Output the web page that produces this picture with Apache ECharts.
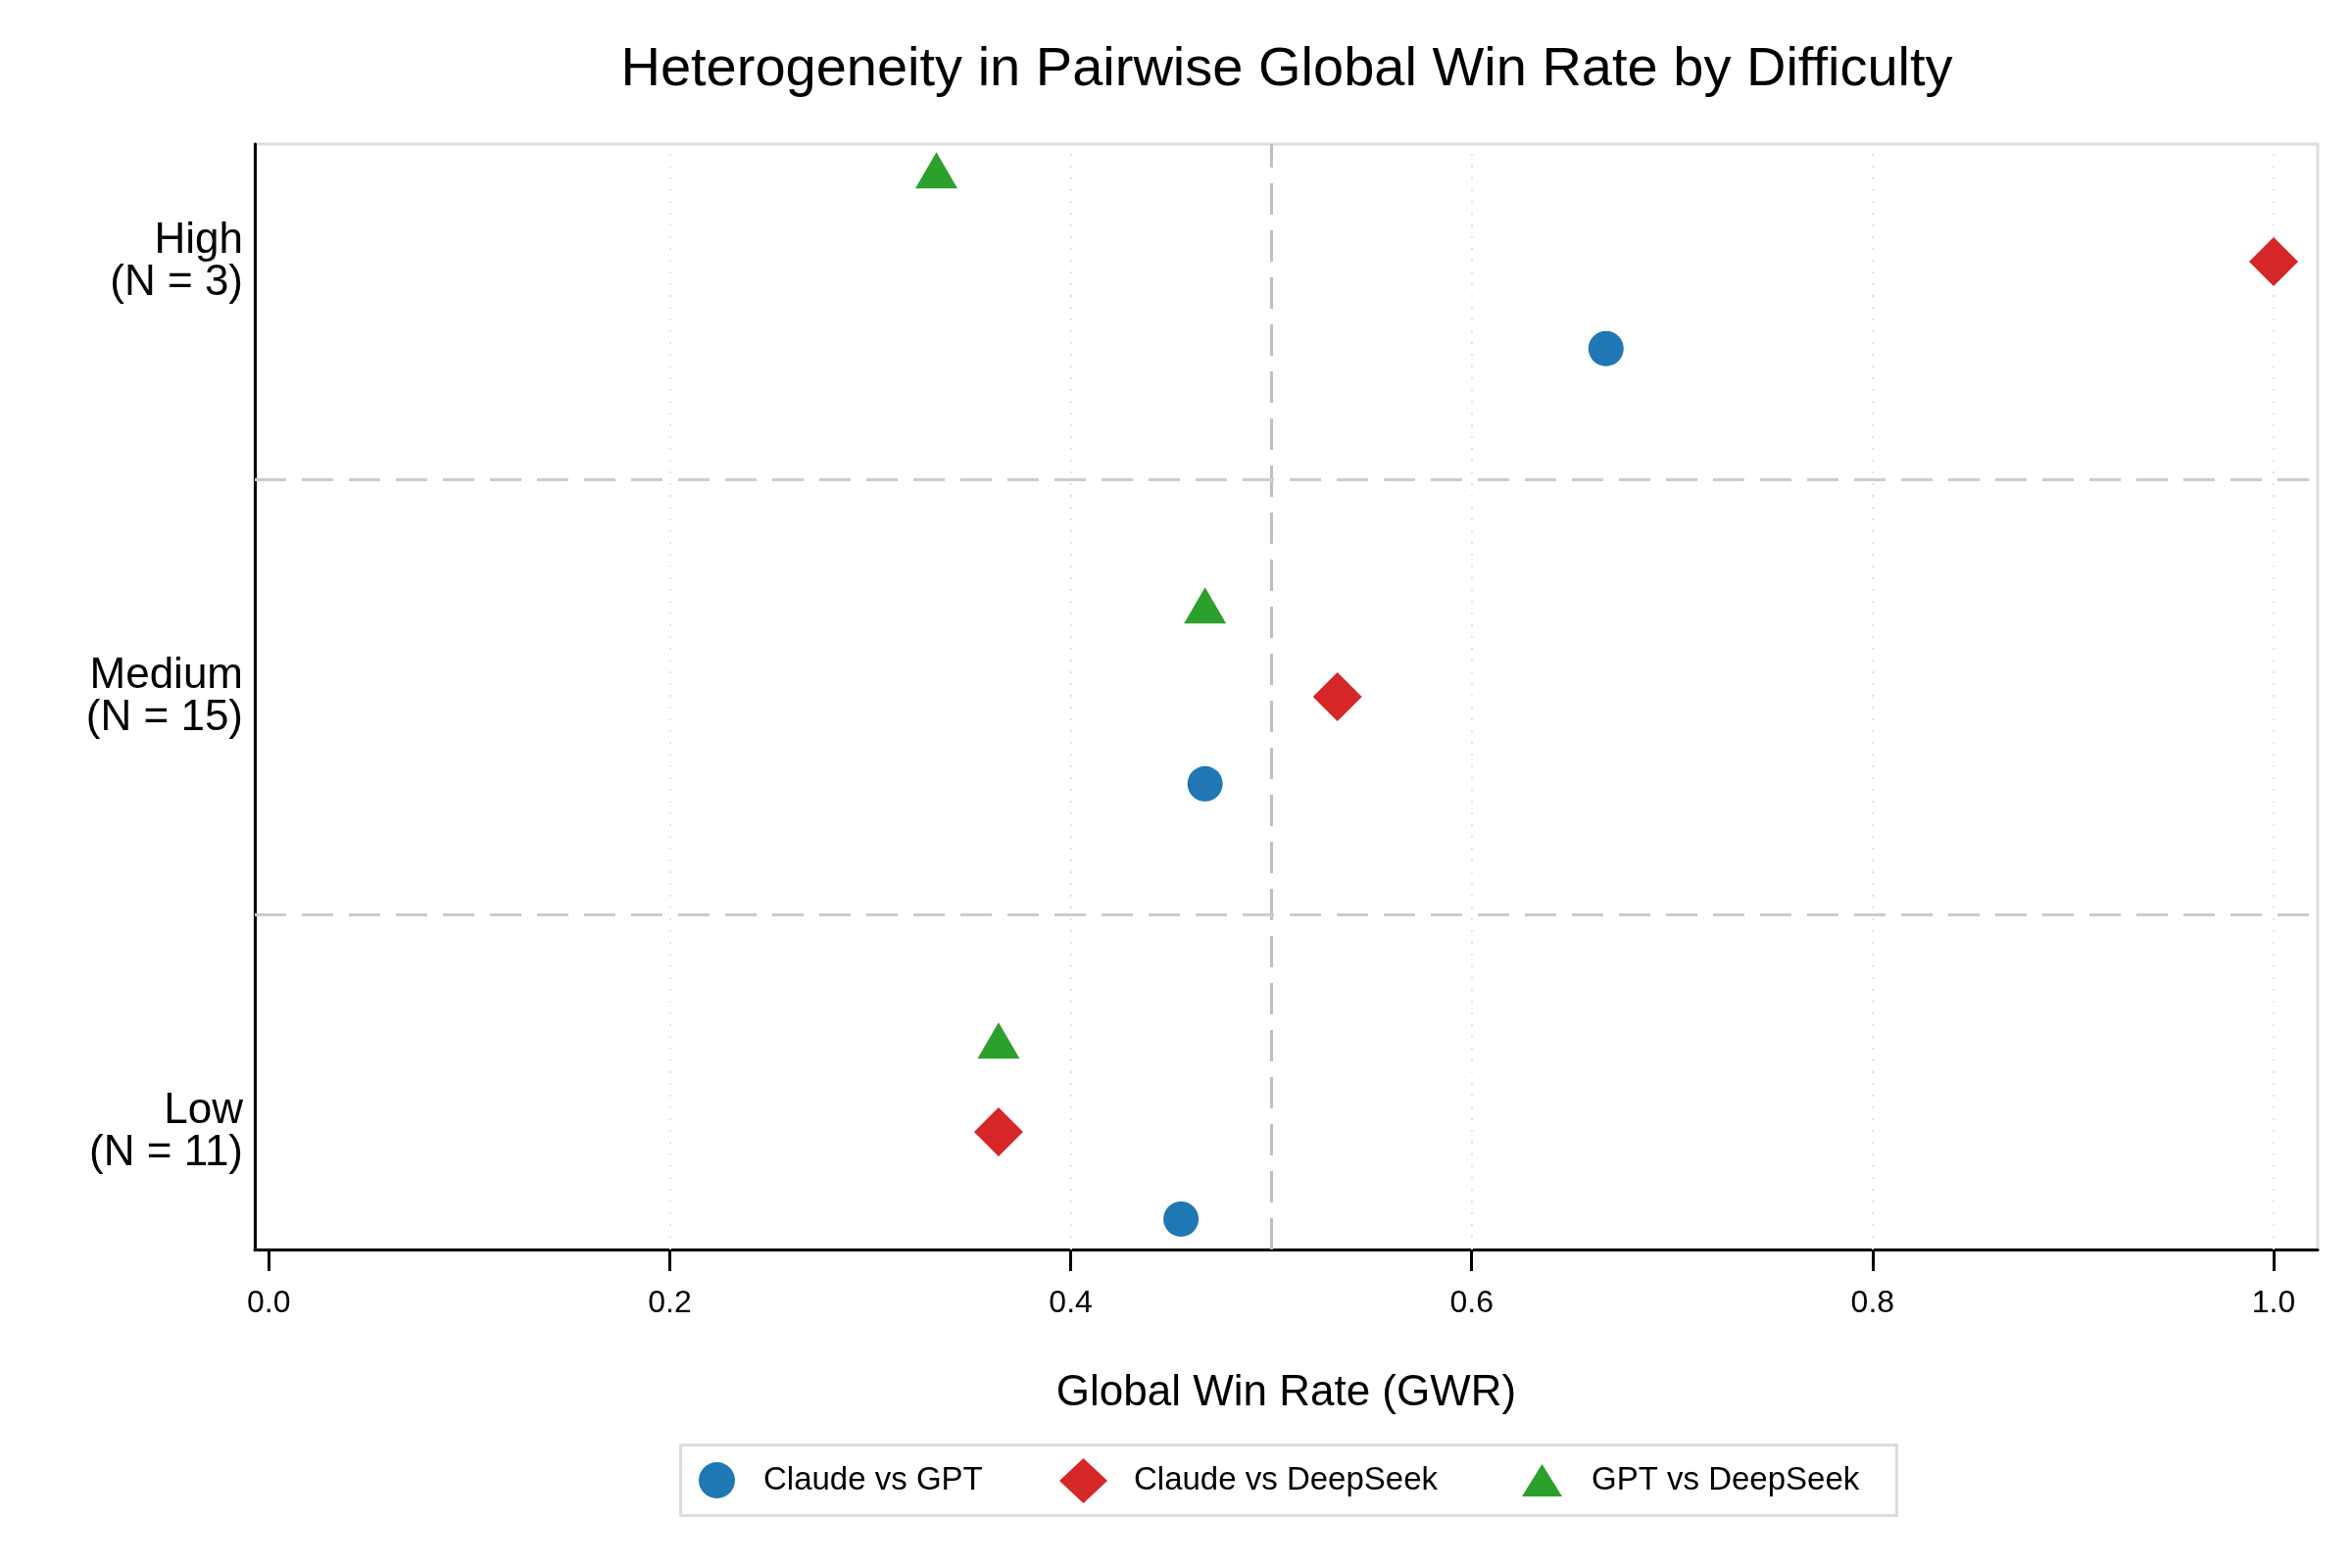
<!DOCTYPE html>
<html>
<head>
<meta charset="utf-8">
<script src="https://cdn.jsdelivr.net/npm/echarts@6/dist/echarts.min.js"></script>
<style>html,body{margin:0;padding:0;background:#fff}#c{width:2400px;height:1600px}</style>
</head>
<body>
<div id="c"></div>
<script>
// ---- data ----
const categories = ['Low', 'Medium', 'High'];
const counts = [11, 15, 3];
const claudeVsGPT = [0.455, 0.467, 0.667];
const claudeVsDeepSeek = [0.364, 0.533, 1.0];
const gptVsDeepSeek = [0.364, 0.467, 0.333];
const xTicks = [0, 0.2, 0.4, 0.6, 0.8, 1.0];
const seriesNames = ['Claude vs GPT', 'Claude vs DeepSeek', 'GPT vs DeepSeek'];

const FONT = 'Liberation Sans, Arial, sans-serif';
const colors = ['#1f77b4', '#d62728', '#2ca02c'];
const offsets = [-0.2, 0, 0.21];

function pts(vals, off) {
  return vals.map((v, i) => [v, i + off]);
}

const chart = echarts.init(document.getElementById('c'), null, {renderer: 'canvas'});
const option = {
  backgroundColor: '#ffffff',
  animation: false,
  title: {
    text: 'Heterogeneity in Pairwise Global Win Rate by Difficulty',
    left: 1313, top: 44, textAlign: 'center', padding: 0,
    textStyle: {fontFamily: FONT, fontSize: 56, fontWeight: 'normal', color: '#000'}
  },
  grid: {
    left: 260, right: 35, top: 147, bottom: 325,
    show: true, borderColor: '#dddddd', borderWidth: 3, backgroundColor: 'transparent'
  },
  xAxis: {
    type: 'value', min: -0.007, max: 1.022,
    name: 'Global Win Rate (GWR)', nameLocation: 'middle', nameGap: 125,
    nameTextStyle: {fontFamily: FONT, fontSize: 44, color: '#000'},
    axisLine: {show: true, onZero: false, lineStyle: {color: '#000', width: 3}},
    axisTick: {show: true, customValues: xTicks, length: 22, lineStyle: {color: '#000', width: 3}},
    axisLabel: {customValues: xTicks, formatter: v => v.toFixed(1), margin: 39,
      fontFamily: FONT, fontSize: 32, color: '#000'},
    splitLine: {show: false}
  },
  yAxis: {
    type: 'value', min: -0.27, max: 2.27,
    axisLine: {show: true, onZero: false, lineStyle: {color: '#000', width: 3}},
    axisTick: {show: false},
    axisLabel: {customValues: [0, 1, 2],
      formatter: v => categories[Math.round(v)] + '\n(N = ' + counts[Math.round(v)] + ')',
      margin: 12, align: 'right', padding: [8, 0, 0, 0],
      fontFamily: FONT, fontSize: 44, lineHeight: 43, color: '#000'},
    splitLine: {show: false}
  },
  legend: [
    {data: [{name: seriesNames[0], icon: 'circle'}], left: 713, top: 1492, padding: 0, itemWidth: 37, itemHeight: 37,
      textStyle: {fontFamily: FONT, fontSize: 33, color: '#000', padding: [0, 0, 0, 24]}},
    {data: [{name: seriesNames[1], icon: 'diamond'}], left: 1081, top: 1488, padding: 0, itemWidth: 49, itemHeight: 46,
      textStyle: {fontFamily: FONT, fontSize: 33, color: '#000', padding: [0, 0, 0, 22]}},
    {data: [{name: seriesNames[2], icon: 'triangle'}], left: 1553, top: 1494, padding: 0, itemWidth: 41, itemHeight: 33,
      textStyle: {fontFamily: FONT, fontSize: 33, color: '#000', padding: [0, 0, 0, 25]}}
  ],
  graphic: [{
    type: 'rect', left: 692, top: 1472, shape: {width: 1241, height: 72},
    style: {fill: 'none', stroke: '#dcdcdc', lineWidth: 3}, z: -1
  }],
  series: [
    {
      name: seriesNames[0], type: 'scatter', symbol: 'circle', symbolSize: 36,
      itemStyle: {color: colors[0], opacity: 1},
      data: pts(claudeVsGPT, offsets[0]), z: 5,
      markLine: {
        silent: true, symbol: 'none', label: {show: false}, animation: false,
        data: xTicks.filter(v => v > 0).map(v => ({xAxis: v, lineStyle: {color: '#e2e2e2', width: 2, type: [2, 10]}}))
          .concat([{xAxis: 0.5, lineStyle: {color: '#bfbfbf', width: 3, type: [32, 16]}}])
          .concat([0.5, 1.5].map(v => ({yAxis: v, lineStyle: {color: '#cccccc', width: 3, type: [32, 16]}})))
      }
    },
    {
      name: seriesNames[1], type: 'scatter', symbol: 'diamond', symbolSize: [50, 50],
      itemStyle: {color: colors[1], opacity: 1},
      data: pts(claudeVsDeepSeek, offsets[1]), z: 5
    },
    {
      name: seriesNames[2], type: 'scatter', symbol: 'triangle', symbolSize: [43, 37],
      itemStyle: {color: colors[2], opacity: 1},
      data: pts(gptVsDeepSeek, offsets[2]), z: 5
    }
  ]
};
chart.setOption(option);
</script>
</body>
</html>
